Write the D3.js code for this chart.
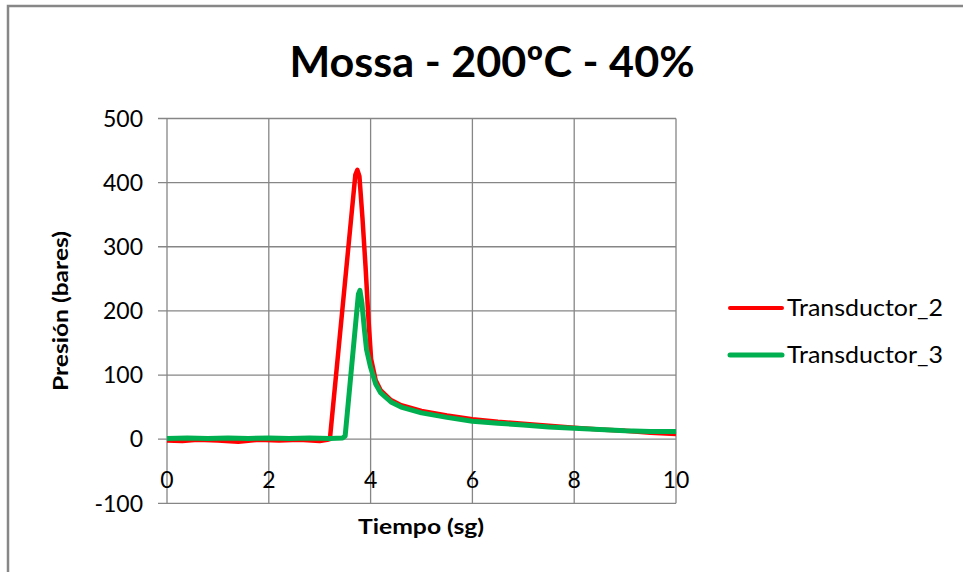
<!DOCTYPE html>
<html>
<head>
<meta charset="utf-8">
<script src="https://cdn.jsdelivr.net/npm/d3@7"></script>
<style>
  body { margin: 0; background: #fff; }
  text { font-family: Lato, "Open Sans", sans-serif; fill: #000; }
</style>
</head>
<body>
<svg id="chart"></svg>
<script>
// Transductor_2 (red)
var t2Time = [0, 0.3, 0.6, 1.0, 1.4, 1.8, 2.2, 2.6, 3.0, 3.15, 3.2, 3.70, 3.74, 3.78, 3.84, 3.9, 3.96, 4.01, 4.1, 4.2, 4.4, 4.6, 5.0, 5.5, 6.0, 6.5, 7.0, 7.5, 8.0, 8.5, 9.0, 9.5, 10];
var t2Value = [-2, -3, -1, -2, -4, -1, -2, -1, -3, -1, 0, 412, 420, 410, 345, 270, 185, 125, 92, 76, 61, 53, 44, 37, 31, 27, 24, 21, 18, 15, 13, 10, 8];
// Transductor_3 (green)
var t3Time = [0, 0.4, 0.8, 1.2, 1.6, 2.0, 2.4, 2.8, 3.2, 3.45, 3.5, 3.76, 3.79, 3.83, 3.88, 3.92, 4.0, 4.1, 4.2, 4.4, 4.6, 5.0, 5.5, 6.0, 6.5, 7.0, 7.5, 8.0, 8.5, 9.0, 9.5, 10];
var t3Value = [1, 2, 1, 2, 1, 2, 1, 2, 1, 2, 5, 226, 232, 212, 170, 140, 112, 86, 72, 58, 50, 41, 34, 28, 25, 22, 19, 17, 15, 13, 12, 12];

var xTicks = [0, 2, 4, 6, 8, 10];
var yTicks = [-100, 0, 100, 200, 300, 400, 500];
var seriesNames = ["Transductor_2", "Transductor_3"];
var seriesColors = ["#ff0000", "#00b050"];

var width = 963, height = 572;
var svg = d3.select("#chart").attr("width", width).attr("height", height);

// outer chart border
svg.append("rect")
  .attr("x", 8).attr("y", 6)
  .attr("width", width + 20).attr("height", height + 20)
  .attr("fill", "none")
  .attr("stroke", "#878787")
  .attr("stroke-width", 2.5);

var x = d3.scaleLinear().domain([0, 10]).range([167, 676]);
var y = d3.scaleLinear().domain([-100, 500]).range([503.3, 118.5]);

var grid = svg.append("g").attr("stroke", "#868686").attr("stroke-width", 1.3);

grid.selectAll("line.h")
  .data(yTicks)
  .join("line")
  .attr("class", "h")
  .attr("x1", x(0) - 9).attr("x2", x(10))
  .attr("y1", d => y(d)).attr("y2", d => y(d));

grid.selectAll("line.v")
  .data(xTicks)
  .join("line")
  .attr("class", "v")
  .attr("x1", d => x(d)).attr("x2", d => x(d))
  .attr("y1", y(500)).attr("y2", y(-100));

// y tick labels
svg.append("g")
  .selectAll("text")
  .data(yTicks)
  .join("text")
  .attr("x", 143)
  .attr("y", d => y(d))
  .attr("dy", "0.36em")
  .attr("text-anchor", "end")
  .style("font-size", "23px")
  .text(d => d);

// x tick labels (axis crosses at 0)
svg.append("g")
  .selectAll("text")
  .data(xTicks)
  .join("text")
  .attr("x", d => x(d))
  .attr("y", y(0) + 49)
  .attr("text-anchor", "middle")
  .style("font-size", "23px")
  .text(d => d);

var line = d3.line()
  .x(d => x(d[0]))
  .y(d => y(d[1]));

var t2Data = t2Time.map((t, i) => [t, t2Value[i]]);
var t3Data = t3Time.map((t, i) => [t, t3Value[i]]);

svg.append("path")
  .datum(t2Data)
  .attr("d", line)
  .attr("fill", "none")
  .attr("stroke", seriesColors[0])
  .attr("stroke-width", 4.5)
  .attr("stroke-linejoin", "round");

svg.append("path")
  .datum(t3Data)
  .attr("d", line)
  .attr("fill", "none")
  .attr("stroke", seriesColors[1])
  .attr("stroke-width", 5)
  .attr("stroke-linejoin", "round");

// title
svg.append("text")
  .attr("x", 492)
  .attr("y", 77)
  .attr("text-anchor", "middle")
  .attr("textLength", 405)
  .attr("lengthAdjust", "spacingAndGlyphs")
  .style("font-size", "42px")
  .style("font-weight", "bold")
  .text("Mossa - 200ºC - 40%");

// axis titles
svg.append("text")
  .attr("x", 421)
  .attr("y", 534)
  .attr("text-anchor", "middle")
  .attr("textLength", 126)
  .attr("lengthAdjust", "spacingAndGlyphs")
  .style("font-size", "21px")
  .style("font-weight", "bold")
  .text("Tiempo (sg)");

svg.append("text")
  .attr("transform", "translate(68,311) rotate(-90)")
  .attr("text-anchor", "middle")
  .attr("textLength", 160)
  .attr("lengthAdjust", "spacingAndGlyphs")
  .style("font-size", "21px")
  .style("font-weight", "bold")
  .text("Presión (bares)");

// legend
var legend = svg.append("g")
  .selectAll("g")
  .data(seriesNames)
  .join("g")
  .attr("transform", (d, i) => `translate(730, ${308 + i * 47})`);

legend.append("line")
  .attr("x1", 0).attr("x2", 52)
  .attr("stroke", (d, i) => seriesColors[i])
  .attr("stroke-width", (d, i) => i == 0 ? 4 : 5)
  .attr("stroke-linecap", "round");

legend.append("text")
  .attr("x", 57)
  .attr("dy", "0.36em")
  .attr("textLength", 156)
  .attr("lengthAdjust", "spacingAndGlyphs")
  .style("font-size", "23px")
  .text(d => d);
</script>
</body>
</html>
